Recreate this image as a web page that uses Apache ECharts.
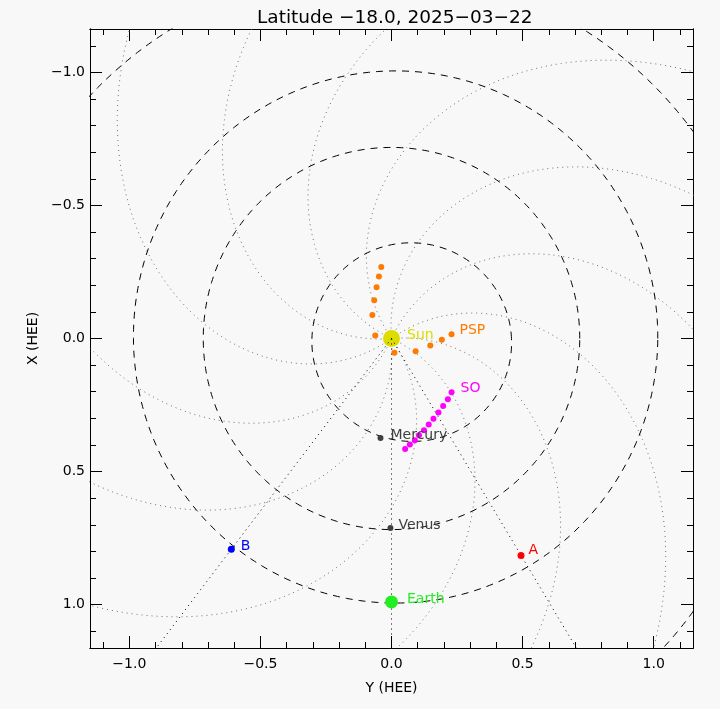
<!DOCTYPE html>
<html><head><meta charset="utf-8">
<script src="https://cdn.jsdelivr.net/npm/echarts@6/dist/echarts.min.js"></script>
<style>html,body{margin:0;padding:0;background:#f8f8f8}#c{width:720px;height:709px}</style>
</head><body><div id="c"></div><script>
// ---------- data (HEE coordinates: [Y, X]) ----------
const titleText = 'Latitude \u221218.0, 2025\u221203\u221222';
const majorTicks = [-1.0, -0.5, 0.0, 0.5, 1.0];
const minorTicks = [-1.1,-1.0,-0.9,-0.8,-0.7,-0.6,-0.5,-0.4,-0.3,-0.2,-0.1,0.0,0.1,0.2,0.3,0.4,0.5,0.6,0.7,0.8,0.9,1.0,1.1];

const sunPos = [0.0, 0.0];
const pspTrack = [[-0.039,-0.269],[-0.048,-0.233],[-0.057,-0.193],[-0.066,-0.144],[-0.073,-0.088],[-0.062,-0.011],[0.011,0.054],[0.092,0.048],[0.148,0.026],[0.192,0.005],[0.229,-0.016]];
const soTrack = [[0.229,0.202],[0.215,0.228],[0.197,0.254],[0.179,0.278],[0.160,0.302],[0.142,0.323],[0.124,0.345],[0.105,0.364],[0.089,0.382],[0.070,0.398],[0.052,0.415]];
const planetNames = ['Mercury', 'Venus', 'Earth'];
const planetPos = [[-0.042,0.374],[-0.004,0.712],[0.0,0.990]];
const craftNames = ['A', 'B'];
const craftPos = [[0.494,0.815],[-0.611,0.792]];
const radialTargets = [[0.0,0.990],[0.494,0.815],[-0.611,0.792]]; // Earth, A, B

// orbit ellipses (focus at Sun): semi-latus rectum, eccentricity, perihelion angle (deg)
const orbitNames = ['Mercury','Venus','Earth','Mars'];
const orbitP = [0.365, 0.718, 0.9997, 1.50];
const orbitE = [0.2056, 0.0, 0.0167, 0.0934];
const orbitPeri = [170, 0, -160, 65];
// Parker spirals: start longitudes (deg) and winding (deg per AU)
const spiralStart = [5,35,65,95,125,155,185,215,245,275,305,335];
const spiralWinding = 55;

// ---------- build ----------
const FONT = 'DejaVu Sans';
const XMIN=-1.15, XMAX=1.15, YMIN=-1.163, YMAX=1.163;
const fmt = v => (v < -1e-9 ? '\u2212' : '') + Math.abs(v).toFixed(1);
const rad = Math.PI/180;

function orbitCurve(p,e,peri){
  const pts=[];
  for(let d=0; d<=360; d+=1){
    const th=d*rad; const r=p/(1+e*Math.cos(th-peri*rad));
    pts.push([r*Math.cos(th), -r*Math.sin(th)]);
  }
  return pts;
}
function spiralCurve(th0){
  const pts=[];
  for(let i=0;i<=175;i++){
    const r=i*0.01; const th=(th0-spiralWinding*r)*rad;
    pts.push([r*Math.cos(th), -r*Math.sin(th)]);
  }
  return pts;
}

function xAx(pos, ticks, len, labels){
  return {type:'value', position:pos, min:XMIN, max:XMAX,
    axisLine:{show:true,onZero:false,lineStyle:{color:'#000',width:1}},
    axisTick:{show:true,inside:true,length:len,customValues:ticks,lineStyle:{color:'#000',width:1}},
    axisLabel:{show:labels,customValues:majorTicks,formatter:fmt,color:'#000',fontFamily:FONT,fontSize:14,margin:9},
    splitLine:{show:false},
    name: labels?'Y (HEE)':'', nameLocation:'middle', nameGap:33,
    nameTextStyle:{color:'#000',fontFamily:FONT,fontSize:14}};
}
function yAx(pos, ticks, len, labels){
  return {type:'value', position:pos, min:YMIN, max:YMAX, inverse:true,
    axisLine:{show:true,onZero:false,lineStyle:{color:'#000',width:1}},
    axisTick:{show:true,inside:true,length:len,customValues:ticks,lineStyle:{color:'#000',width:1}},
    axisLabel:{show:labels,customValues:majorTicks,formatter:fmt,color:'#000',fontFamily:FONT,fontSize:14,margin:5},
    splitLine:{show:false},
    name: labels?'X (HEE)':'', nameLocation:'middle', nameGap:50,
    nameTextStyle:{color:'#000',fontFamily:FONT,fontSize:14}};
}

const series=[];
spiralStart.forEach(s=>series.push({type:'line',data:spiralCurve(s),showSymbol:false,symbol:'none',silent:true,z:1,
  lineStyle:{color:'#6e6e6e',width:1,type:[1,4]}}));
orbitNames.forEach((n,i)=>series.push({type:'line',name:n+' orbit',data:orbitCurve(orbitP[i],orbitE[i],orbitPeri[i]),showSymbol:false,symbol:'none',silent:true,z:2,
  lineStyle:{color:'#000',width:1,type:[7,6]}}));
series.push({type:'scatter',data:[sunPos],symbolSize:17,z:3,itemStyle:{color:'#dcdc00',opacity:1},
  label:{show:true,formatter:'Sun',position:'right',distance:7,offset:[0,-3],color:'#dcdc00',fontFamily:FONT,fontSize:14}});
radialTargets.forEach(t=>series.push({type:'line',data:[sunPos,[t[0]*3,t[1]*3]],showSymbol:false,symbol:'none',silent:true,z:4,
  lineStyle:{color:'#000',width:1,type:[1,4]}}));
const lbl=(txt,color,dist,dy)=>({show:true,formatter:txt,position:'right',distance:dist,offset:[0,dy],color:color,fontFamily:FONT,fontSize:14});
series.push({type:'scatter',z:5,symbolSize:6,itemStyle:{color:'#ff7a00',opacity:1},
  data:pspTrack.map((p,i)=>i===pspTrack.length-1?{value:p,label:lbl('PSP','#ff7a00',5,-4)}:{value:p})});
series.push({type:'scatter',z:5,symbolSize:6,itemStyle:{color:'#ff00ff',opacity:1},
  data:soTrack.map((p,i)=>i===0?{value:p,label:lbl('SO','#ff00ff',6,-4)}:{value:p})});
const planetColor=['#404040','#404040','#22ee22'];
const planetSize=[6,6,13];
const planetDist=[7,5,9];
planetNames.forEach((n,i)=>series.push({type:'scatter',z:5,symbolSize:planetSize[i],itemStyle:{color:planetColor[i],opacity:1},
  data:[{value:planetPos[i],label:lbl(n,planetColor[i],planetDist[i],-3)}]}));
const craftColor=['#ff0000','#0000ff'];
craftNames.forEach((n,i)=>series.push({type:'scatter',z:5,symbolSize:7,itemStyle:{color:craftColor[i],opacity:1},
  data:[{value:craftPos[i],label:lbl(n,craftColor[i],i===0?4:6,i===0?-5:-3)}]}));

const chart=echarts.init(document.getElementById('c'),null,{renderer:'canvas'});
chart.setOption({
  animation:false,
  backgroundColor:'#f8f8f8',
  title:{text:titleText,left:252,top:4,textStyle:{color:'#000',fontFamily:FONT,fontSize:18.5,fontWeight:'normal'}},
  grid:{left:90,top:29,width:603,height:619,containLabel:false},
  xAxis:[xAx('bottom',majorTicks,12,true),xAx('bottom',minorTicks,6,false),xAx('top',majorTicks,12,false),xAx('top',minorTicks,6,false)],
  yAxis:[yAx('left',majorTicks,12,true),yAx('left',minorTicks,6,false),yAx('right',majorTicks,12,false),yAx('right',minorTicks,6,false)],
  series:series
});
</script></body></html>
